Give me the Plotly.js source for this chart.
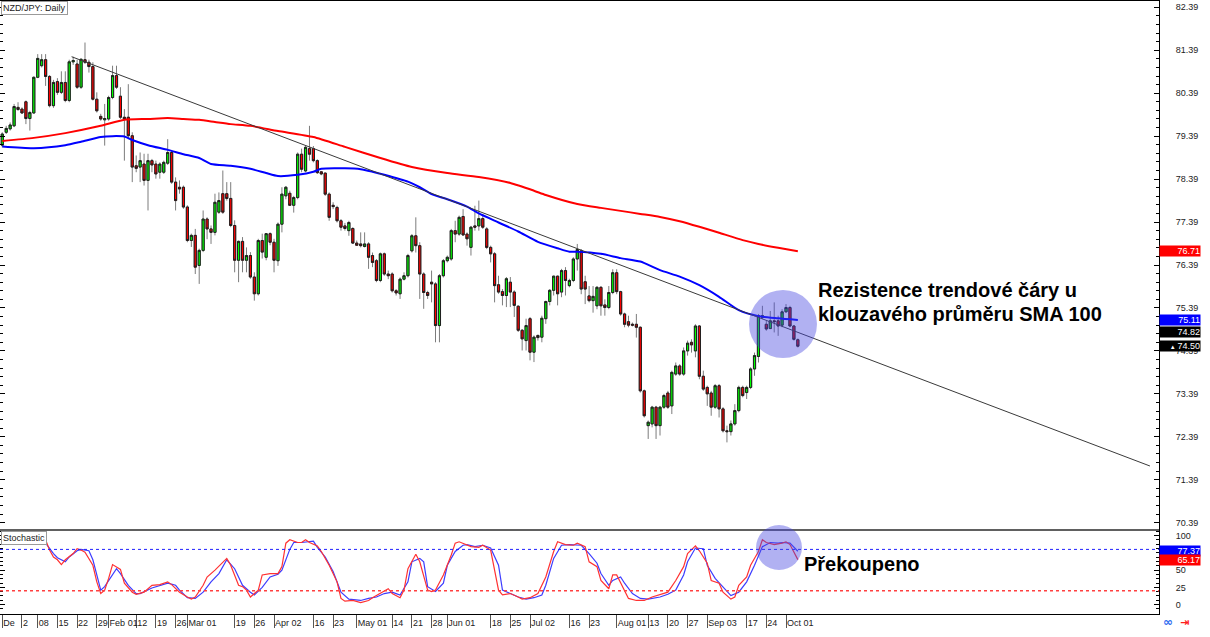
<!DOCTYPE html>
<html><head><meta charset="utf-8">
<script src="https://cdn.plot.ly/plotly-3.0.1.min.js"></script>
<style>html,body{margin:0;padding:0;background:#fff;overflow:hidden}#chart{width:1210px;height:637px}</style>
</head><body><div id="chart"></div>
<script>
// ---- NZD/JPY daily candles (trading-day index 0..202) ----
const openP = [79.18,79.48,79.56,79.63,80.06,80.02,80.19,79.80,79.93,80.76,81.03,81.17,80.78,80.10,80.66,80.41,80.64,80.22,81.12,81.07,
80.53,81.17,81.11,81.01,80.25,79.85,79.77,79.79,80.29,80.80,80.32,79.83,79.83,79.40,78.70,78.67,78.74,78.36,78.82,78.74,
78.55,78.55,78.76,79.01,78.32,78.20,78.20,77.74,76.96,77.08,76.38,76.73,77.46,77.23,77.15,77.62,78.05,78.05,77.94,77.31,
76.50,76.94,76.50,76.61,76.11,75.72,76.96,76.57,77.12,76.92,
76.49,77.34,78.00,78.06,77.78,77.96,78.97,78.58,79.10,79.10,78.82,78.56,78.53,78.04,77.78,77.73,77.42,77.30,77.19,77.24,
76.90,76.88,76.82,76.88,76.61,76.49,76.03,76.65,76.18,76.18,75.79,75.72,76.06,76.14,76.72,77.07,76.84,76.18,75.75,75.99,
75.95,74.98,76.14,76.49,76.53,77.19,77.11,77.52,77.11,76.80,77.30,77.30,77.47,
77.23,76.80,76.65,75.93,75.77,75.68,75.99,75.76,75.43,74.87,74.63,75.14,74.36,74.75,74.71,75.14,75.54,75.80,76.13,75.76,
76.26,75.91,76.03,76.53,
76.72,76.00,75.67,75.56,75.44,75.87,75.46,75.40,75.75,76.21,75.77,75.25,75.07,75.01,75.01,74.94,73.46,72.65,72.69,73.08,
72.65,73.08,73.41,73.11,73.85,74.04,73.85,74.39,74.59,74.39,74.97,73.80,73.54,73.41,73.08,73.58,73.04,72.53,72.51,72.69,
73.00,73.54,73.42,73.54,73.97,74.26,75.17,75.01,74.91,75.09,75.09,74.99,75.30,75.40,74.97,74.65];
const highP = [79.48,79.63,79.71,80.14,80.18,80.06,80.22,79.98,80.78,81.30,81.30,81.30,80.81,80.70,80.74,80.90,80.90,81.17,81.24,81.17,
81.20,81.57,81.17,81.11,80.41,79.91,80.14,80.33,81.03,81.03,80.53,80.02,80.60,79.48,78.94,79.01,78.98,78.98,78.86,78.82,
78.78,78.82,79.32,79.05,78.43,78.36,78.24,77.78,77.12,77.23,76.77,77.66,77.50,77.31,78.05,78.08,78.59,78.32,78.32,77.43,
76.96,77.04,76.80,76.69,76.22,77.00,77.12,77.12,77.15,77.00,
77.38,78.20,78.23,78.12,78.00,79.01,79.10,79.16,79.63,79.16,78.85,78.58,78.54,78.08,77.85,77.77,77.46,77.37,77.42,77.27,
76.96,77.15,77.15,76.92,76.68,76.53,76.68,76.68,76.26,76.22,75.83,76.10,76.22,76.65,77.11,77.50,76.92,76.22,75.79,76.26,
75.99,76.18,76.53,76.61,77.23,77.42,77.54,77.69,77.15,77.30,77.77,77.89,77.58,
77.27,76.84,76.69,76.14,75.83,76.11,76.11,75.80,75.45,74.90,75.14,75.18,74.75,74.77,75.21,75.56,75.83,76.14,76.14,76.30,
76.34,76.07,76.57,76.88,
76.76,76.14,75.90,75.90,75.90,75.90,75.59,75.90,76.29,76.29,75.79,75.28,75.21,75.05,75.25,74.96,73.49,72.77,73.11,73.11,
73.11,73.39,73.46,73.93,74.12,74.08,74.47,74.63,74.66,75.01,74.99,73.93,73.58,73.46,73.62,73.62,73.08,72.65,72.77,73.15,
73.58,73.58,73.58,74.01,74.35,75.25,75.44,75.09,75.32,75.52,75.21,75.36,75.48,75.44,74.99,74.68];
const lowP = [79.13,79.44,79.52,79.60,79.98,79.91,79.67,79.52,79.91,80.74,80.99,80.56,80.06,80.05,80.35,80.37,80.18,80.18,81.05,80.49,
80.49,81.07,80.87,80.22,79.94,79.75,79.17,79.75,80.25,80.49,79.79,78.82,79.32,78.32,78.55,78.32,78.24,77.66,78.55,78.40,
78.40,78.51,78.72,78.28,77.66,78.05,77.70,76.92,76.81,76.18,75.95,76.69,76.99,76.88,77.08,77.58,77.58,77.89,77.27,76.22,
75.99,76.22,76.22,76.07,75.56,75.68,76.54,76.50,76.85,76.22,
76.37,77.15,77.92,77.77,77.61,77.92,78.55,78.55,78.82,78.78,78.51,78.48,78.00,77.42,77.69,77.38,77.19,77.19,77.07,76.88,
76.84,76.80,76.80,76.30,76.34,75.99,75.99,76.14,76.06,75.75,75.68,75.60,76.03,76.10,76.68,76.68,75.60,75.37,75.60,75.52,
74.59,74.59,76.10,76.45,76.49,76.92,77.07,77.07,76.84,76.61,77.19,77.19,77.23,
76.76,76.45,75.52,75.72,75.45,75.41,75.41,75.18,74.83,74.40,74.40,74.17,74.13,74.63,74.59,75.02,75.45,75.68,75.45,75.64,
75.68,75.87,75.99,76.26,
75.71,75.48,75.52,75.28,75.36,75.21,75.21,75.36,75.71,75.71,75.21,74.94,74.94,74.96,74.70,73.42,72.84,72.34,72.61,72.34,
72.42,73.04,73.04,72.92,73.81,73.81,73.81,74.28,74.35,74.24,73.73,73.46,73.11,72.88,73.04,72.84,72.49,72.26,72.42,72.65,
72.96,73.31,73.27,73.50,73.81,74.12,75.13,74.86,74.90,74.82,74.74,74.94,75.28,74.94,74.63,74.47];
const closeP = [79.44,79.57,79.65,80.08,80.01,79.93,79.80,79.94,80.76,81.20,81.17,80.78,80.10,80.64,80.41,80.64,80.22,81.12,81.15,80.53,
81.18,81.11,81.01,80.25,79.98,79.79,79.80,80.29,80.80,80.53,79.83,79.79,79.40,78.67,78.64,78.82,78.36,78.82,78.72,78.51,
78.74,78.78,79.01,78.32,77.89,78.16,77.74,76.96,77.08,76.34,76.73,77.46,77.23,77.15,77.85,77.89,77.62,77.94,77.31,76.50,
76.94,76.50,76.61,76.11,75.72,76.96,76.69,77.12,76.92,76.50,
77.34,78.04,78.20,77.78,77.96,78.97,78.62,79.13,78.97,78.82,78.54,78.51,78.04,77.50,77.75,77.42,77.27,77.24,77.38,76.90,
76.85,76.84,76.88,76.57,76.45,76.03,76.65,76.18,76.14,75.79,75.74,76.06,76.14,76.61,77.07,76.84,76.18,75.75,75.68,75.95,
74.98,76.14,76.49,76.57,77.19,77.11,77.50,77.09,77.00,77.27,77.27,77.47,77.27,
76.80,76.65,75.91,75.76,75.68,76.07,75.76,75.45,74.87,74.67,74.98,74.36,74.71,74.70,75.15,75.54,75.80,76.13,75.72,76.26,
76.03,76.03,76.53,76.75,
75.83,75.83,75.56,75.66,75.87,75.44,75.40,75.75,76.21,75.77,75.25,75.01,74.99,74.99,74.94,73.46,72.88,72.73,73.08,72.65,
73.08,73.35,73.08,73.89,74.04,73.85,74.39,74.57,74.53,74.97,73.80,73.50,73.39,73.08,73.58,73.04,72.53,72.51,72.69,73.00,
73.54,73.35,73.54,73.97,74.28,75.21,75.21,74.90,75.09,75.07,74.97,75.30,75.40,74.97,74.66,74.50];

// ---- x-axis labels (trading-day index) ----
const tickIdx = [0,5,9,14,19,24,27,34,39,44,47,59,64,69,79,84,90,99,104,109,113,124,129,134,144,149,156,164,169,174,179,189,194,199];
const tickLbl = ["De","2","08","15","22","29","Feb 01","12","19","26","Mar 01","19","26","Apr 02","16","23","May 01","14","21","28","Jun 01","18","25","Jul 02","16","23","Aug 01","13","20","27","Sep 03","17","24","Oct 01"];

// ---- moving averages ----
const sma200Idx = [0,8,16,25,31,37,42,46,50,54,58,63,70,79,87,96,104,113,121,129,135,138,146,152,157,162,167,172,177,182,188,192,197,202];
const sma200Val = [79.28,79.35,79.46,79.63,79.77,79.79,79.81,79.79,79.77,79.72,79.67,79.63,79.51,79.37,79.14,78.88,78.67,78.53,78.44,78.30,78.12,78.02,77.81,77.72,77.65,77.58,77.51,77.41,77.28,77.14,76.97,76.88,76.79,76.71];
const sma100Idx = [0,8,16,20,25,28,31,33,37,42,46,50,53,58,63,67,70,75,79,81,87,91,94,97,103,106,109,113,118,121,126,131,136,141,144,146,152,157,162,167,172,177,182,187,192,197,202];
const sma100Val = [79.15,79.11,79.18,79.26,79.37,79.39,79.38,79.30,79.18,79.07,78.97,78.88,78.74,78.70,78.63,78.53,78.46,78.49,78.56,78.63,78.64,78.62,78.56,78.49,78.33,78.20,78.04,77.92,77.75,77.59,77.38,77.17,76.93,76.78,76.70,76.70,76.65,76.55,76.47,76.27,76.12,75.92,75.65,75.34,75.20,75.15,75.11];

// ---- trendline endpoints ----
const trendIdx = [17.6, 291.4];
const trendVal = [81.24, 71.71];

// ---- stochastic ----
const stochKIdx = [0,2,4,7,8,9,11,12,13,14,15,16,18,19,20,21,23,24,25,26,27,28,30,31,33,34,36,38,40,42,43,45,47,48,49,51,52,54,57,58,60,61,62,63,65,66,68,70,71,72,73,75,76,77,78,80,81,83,85,86,87,89,91,93,94,96,98,99,101,102,103,105,106,108,109,110,112,114,115,116,118,119,121,122,124,125,126,127,129,131,132,134,136,138,140,141,143,145,146,148,149,151,152,154,155,156,157,158,159,161,163,165,168,169,171,173,174,176,177,179,180,182,183,185,186,187,189,190,192,193,194,196,198,199,200,202];
const stochKVal = [95,97,96,89,92,97,94,79,69,65,58,65,74,81,79,76,57,33,16,21,38,58,51,31,18,15,18,28,29,33,29,18,11,8,11,28,40,50,67,57,28,26,21,11,21,43,45,45,55,89,94,90,90,94,90,85,77,57,33,9,5,6,3,6,10,16,23,16,10,21,52,73,62,21,19,21,43,72,89,91,86,84,83,86,79,52,21,14,16,11,8,10,16,40,77,91,87,86,89,84,62,55,35,23,43,43,31,21,9,6,6,11,16,18,35,55,74,85,78,60,35,31,18,8,11,28,40,57,77,94,90,87,89,91,87,65.17];
const stochDIdx = [0,2,4,7,9,10,11,13,14,16,17,19,20,22,23,24,25,26,28,29,30,32,34,35,38,40,42,44,45,47,49,51,53,55,57,59,61,63,64,66,68,70,71,73,74,76,77,79,80,82,84,86,88,90,91,93,95,97,99,100,101,103,104,106,107,108,110,112,113,115,117,118,120,122,124,126,127,129,131,133,135,137,138,140,142,144,146,147,149,151,152,154,155,157,158,160,162,164,167,169,171,173,174,176,178,179,181,183,185,187,189,191,193,195,197,198,200,202];
const stochDVal = [94,95,95,90,92,95,89,74,68,62,69,78,80,78,65,43,21,26,43,52,45,28,16,16,24,28,31,28,21,10,9,18,33,45,65,52,28,18,14,25,40,44,50,80,90,90,91,92,83,69,48,18,8,6,6,9,11,16,18,16,14,33,62,67,62,26,19,31,57,77,86,87,84,86,82,57,21,16,11,8,10,14,28,67,86,87,87,86,74,60,45,28,35,40,31,16,9,8,11,15,21,43,62,82,81,57,38,26,13,18,33,57,84,90,89,90,89,77.37];
const stochLevels = [80, 20];

// ---- price boxes on the right ----
const priceTags = [
  {v: 76.71, bg: '#ff0000', ax: 'y'},
  {v: 75.11, bg: '#0000ff', ax: 'y'},
  {v: 74.82, bg: '#000000', ax: 'y'},
  {v: 74.50, bg: '#000000', ax: 'y', mark: true},
  {v: 77.37, bg: '#0000ff', ax: 'y2'},
  {v: 65.17, bg: '#ff0000', ax: 'y2'}
];
const mainTicks = [70.39,71.39,72.39,73.39,74.39,75.39,76.39,77.39,78.39,79.39,80.39,81.39,82.39];
const stochTicks = [0,25,50,100];

// ---------------- drawing ----------------
const W = 1159, H = 614;            // plot area in px
const px = x => x / W, py = y => (H - y) / H;
const FONT = 'Liberation Sans Narrow, Liberation Sans, Arial, sans-serif';
const dayIdx = openP.map((_, i) => i);
const bodyHi = openP.map((o, i) => Math.max(o, closeP[i]));
const bodyLo = openP.map((o, i) => Math.min(o, closeP[i]));

const traces = [
  {type:'candlestick', x:dayIdx, open:openP, high:highP, low:lowP, close:closeP,
   increasing:{line:{color:'#7c7c7c', width:1}, fillcolor:'#00ff00'},
   decreasing:{line:{color:'#7c7c7c', width:1}, fillcolor:'#ff0000'},
   whiskerwidth:0, hoverinfo:'skip', showlegend:false, xaxis:'x', yaxis:'y'},
  {type:'candlestick', x:dayIdx, open:openP, high:bodyHi, low:bodyLo, close:closeP,
   increasing:{line:{color:'#1e1e1e', width:1}, fillcolor:'#00ff00'},
   decreasing:{line:{color:'#1e1e1e', width:1}, fillcolor:'#ff0000'},
   whiskerwidth:0, hoverinfo:'skip', showlegend:false, xaxis:'x', yaxis:'y'},
  {type:'scatter', mode:'lines', x:sma200Idx, y:sma200Val, line:{color:'#ff0000', width:2, shape:'spline', smoothing:0.6}, hoverinfo:'skip', xaxis:'x', yaxis:'y'},
  {type:'scatter', mode:'lines', x:sma100Idx, y:sma100Val, line:{color:'#0000ff', width:2, shape:'spline', smoothing:0.6}, hoverinfo:'skip', xaxis:'x', yaxis:'y'},
  {type:'scatter', mode:'lines', x:trendIdx, y:trendVal, line:{color:'#3a3a3a', width:1}, hoverinfo:'skip', xaxis:'x', yaxis:'y'},
  {type:'scatter', mode:'lines', x:stochDIdx, y:stochDVal, line:{color:'rgb(60,60,255)', width:1.2}, hoverinfo:'skip', xaxis:'x', yaxis:'y2'},
  {type:'scatter', mode:'lines', x:stochKIdx, y:stochKVal, line:{color:'rgb(255,50,50)', width:1.2}, hoverinfo:'skip', xaxis:'x', yaxis:'y2'}
];

const splitY = py(530);
const shapes = [
  {type:'line', xref:'paper', yref:'y2', x0:0, x1:1, y0:stochLevels[0], y1:stochLevels[0], line:{color:'#2020ff', width:1, dash:'dot'}},
  {type:'line', xref:'paper', yref:'y2', x0:0, x1:1, y0:stochLevels[1], y1:stochLevels[1], line:{color:'#ff4040', width:1.5, dash:'dot'}},
  {type:'line', xref:'paper', yref:'paper', x0:0, x1:1, y0:splitY, y1:splitY, line:{color:'#606060', width:2}},
  {type:'line', xref:'paper', yref:'paper', x0:0, x1:1, y0:1, y1:1, line:{color:'#000', width:2}},
  {type:'circle', xref:'paper', yref:'paper', x0:px(749), x1:px(817), y0:py(358), y1:py(290), fillcolor:'rgba(70,70,225,0.42)', line:{width:0}, layer:'above'},
  {type:'circle', xref:'paper', yref:'paper', x0:px(756), x1:px(802), y0:py(570), y1:py(525), fillcolor:'rgba(70,70,225,0.42)', line:{width:0}, layer:'above'}
];

const annotations = [
  {xref:'paper', yref:'paper', x:0.001, y:0.999, xanchor:'left', yanchor:'top', text:'NZD/JPY: Daily', showarrow:false,
   bgcolor:'#fff', bordercolor:'#9a9a9a', borderwidth:1, borderpad:1, font:{family:FONT, size:9, color:'#222'}},
  {xref:'paper', yref:'paper', x:0.001, y:py(531), xanchor:'left', yanchor:'top', text:'Stochastic', showarrow:false,
   bgcolor:'#fff', bordercolor:'#9a9a9a', borderwidth:1, borderpad:1, font:{family:FONT, size:9, color:'#222'}},
  {xref:'paper', yref:'paper', x:px(816), y:py(290), xanchor:'left', yanchor:'middle', showarrow:false,
   text:'<b>Rezistence trendové čáry u</b>', font:{family:'Liberation Sans, Arial, sans-serif', size:20, color:'#000'}},
  {xref:'paper', yref:'paper', x:px(816), y:py(314), xanchor:'left', yanchor:'middle', showarrow:false,
   text:'<b>klouzavého průměru SMA 100</b>', font:{family:'Liberation Sans, Arial, sans-serif', size:20, color:'#000'}},
  {xref:'paper', yref:'paper', x:px(802), y:py(564), xanchor:'left', yanchor:'middle', showarrow:false,
   text:'<b>Překoupeno</b>', font:{family:'Liberation Sans, Arial, sans-serif', size:20, color:'#000'}},
  {xref:'paper', yref:'paper', x:px(1168), y:py(622), xanchor:'center', yanchor:'middle', showarrow:false,
   text:'<b>∞</b>', font:{family:'DejaVu Sans', size:12, color:'#2a6af0'}},
  {xref:'paper', yref:'paper', x:px(1184), y:py(622), xanchor:'center', yanchor:'middle', showarrow:false,
   text:'<b>⇥</b>', font:{family:'DejaVu Sans', size:11, color:'#ff2020'}}
];
priceTags.forEach(t => {
  annotations.push({xref:'paper', yref:t.ax, x:1, y:t.v, xanchor:'left', yanchor:'middle', showarrow:false,
    text:(t.mark ? '<span style="font-size:6px">▲ </span>' : '') + t.v.toFixed(2),
    bgcolor:t.bg, width:40, height:10, borderpad:0, align:'right',
    font:{family:FONT, size:9, color:'#fff'}});
});

const yCommon = {side:'right', showgrid:false, zeroline:false, showline:true, linecolor:'#000', linewidth:1,
  mirror:'ticks', ticks:'inside', ticklen:5, tickcolor:'#000', ticklabelstandoff:14,
  tickfont:{family:FONT, size:9, color:'#222'}, fixedrange:true};

const layout = {
  width:1210, height:637, margin:{l:0, r:51, t:0, b:23, pad:0},
  paper_bgcolor:'#fff', plot_bgcolor:'#fff', showlegend:false,
  font:{family:FONT, size:9, color:'#222'},
  boxgap:0.22,
  xaxis:{range:[-0.58, 293.7], anchor:'y2', showgrid:false, zeroline:false, showline:true, linecolor:'#000', linewidth:1,
    ticks:'outside', ticklen:13, tickcolor:'#555', tickmode:'array', tickvals:tickIdx, ticktext:tickLbl, tickangle:0,
    ticklabelposition:'outside right', tickfont:{family:FONT, size:9, color:'#222'},
    rangeslider:{visible:false}, fixedrange:true},
  yaxis:Object.assign({}, yCommon, {domain:[splitY, 1], range:[70.22, 82.56], tickmode:'array', tickvals:mainTicks,
    tickformat:'.2f', minor:{tickmode:'linear', tick0:0.39, dtick:0.2, ticklen:3, ticks:'inside', tickcolor:'#000'}}),
  yaxis2:Object.assign({}, yCommon, {domain:[0, splitY], range:[-13.6, 108.1], tickmode:'array', tickvals:stochTicks,
    minor:{tickmode:'linear', tick0:0, dtick:6.25, ticklen:3, ticks:'inside', tickcolor:'#000'}}),
  shapes:shapes, annotations:annotations
};

Plotly.newPlot('chart', traces, layout, {displayModeBar:false, staticPlot:true});
</script>
</body></html>
